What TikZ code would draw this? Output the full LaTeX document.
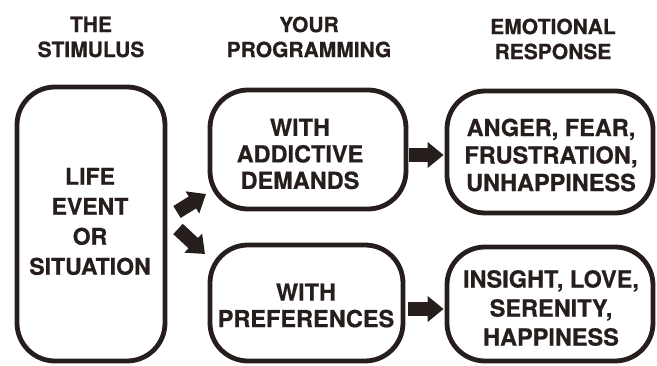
\documentclass[tikz,border=0pt]{standalone}
\usepackage{fontspec}
\setmainfont{TeX Gyre Heros}[BoldFeatures={FakeBold=0.6}]
\usetikzlibrary{arrows.meta}
\definecolor{ink}{RGB}{38,30,28}
\begin{document}
\begin{tikzpicture}[x=1pt,y=-1pt,
  box/.style={draw=ink, line width=4.8pt, rounded corners=38pt, inner sep=0pt},
  boxtext/.style={text=ink, font=\bfseries\fontsize{23.5}{27.5}\selectfont, align=center, inner sep=0pt},
  headtext/.style={text=ink, font=\bfseries\fontsize{21}{25}\selectfont, align=center, inner sep=0pt},
  blockarrow/.style={draw=ink, line width=14pt, -{Triangle[length=16pt 0 0, width=25pt 0 0]}}]
\useasboundingbox (0,0) rectangle (657,366);
% headers
\node[headtext] (h1) at (91,37) {THE\\STIMULUS};
\node[headtext] (h2) at (309,37) {YOUR\\PROGRAMMING};
\node[headtext] (h3) at (553,39) {EMOTIONAL\\RESPONSE};
% boxes
\node[box, minimum width=148pt, minimum height=274pt] (stim) at (91,224) {};
\node[box, minimum width=196pt, minimum height=119pt] (dem) at (308,149.5) {};
\node[box, minimum width=193pt, minimum height=116pt] (pref) at (306.5,303) {};
\node[box, minimum width=206pt, minimum height=122pt] (neg) at (550,152) {};
\node[box, minimum width=206pt, minimum height=114pt] (pos) at (550,304) {};
% texts
\node[boxtext, font=\bfseries\fontsize{23}{30}\selectfont] (stimt) at (90,221.5) {LIFE\\EVENT\\OR\\SITUATION};
\node[boxtext, font=\bfseries\fontsize{23.5}{26.5}\selectfont] (demt) at (300,154) {WITH\\ADDICTIVE\\DEMANDS};
\node[boxtext, font=\bfseries\fontsize{23.5}{26.5}\selectfont] (preft) at (306,305.5) {WITH\\PREFERENCES};
\node[boxtext] (negt) at (551,155) {ANGER, FEAR,\\FRUSTRATION,\\UNHAPPINESS};
\node[boxtext, font=\bfseries\fontsize{23.5}{29}\selectfont] (post) at (551,308) {INSIGHT, LOVE,\\SERENITY,\\HAPPINESS};
% arrows
\coordinate (a1s) at (dem.east |- 0,155);
\coordinate (a1e) at (neg.west |- 0,155);
\draw[blockarrow] ([xshift=1pt]a1s) -- ([xshift=-1pt]a1e);
\coordinate (a2s) at (pref.east |- 0,309);
\coordinate (a2e) at (pos.west |- 0,309);
\draw[blockarrow] ([xshift=3pt]a2s) -- ([xshift=-1pt]a2e);
\coordinate (d1s) at (177,212);
\coordinate (d1e) at (206,194);
\draw[blockarrow] (d1s) -- (d1e);
\coordinate (d2s) at (178,229);
\coordinate (d2e) at (205,254);
\draw[blockarrow] (d2s) -- (d2e);
\end{tikzpicture}
\end{document}
